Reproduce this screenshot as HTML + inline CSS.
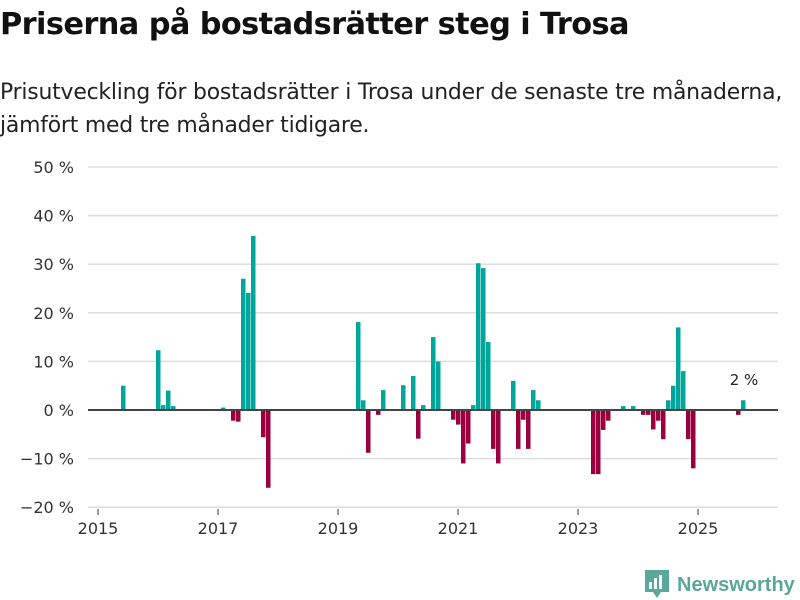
<!DOCTYPE html>
<html><head><meta charset="utf-8"><style>
body{margin:0;width:800px;height:600px;background:#fff;font-family:"Liberation Sans","DejaVu Sans",sans-serif;overflow:hidden;position:relative;color:#111}
h1{position:absolute;left:0;top:7px;margin:0;font-size:30.4px;font-weight:bold;font-family:"DejaVu Sans","Liberation Sans",sans-serif;letter-spacing:-0.6px}
.sub{position:absolute;left:0;top:76px;margin:0;font-size:21.9px;line-height:33px;font-family:"DejaVu Sans","Liberation Sans",sans-serif;color:#222;letter-spacing:-0.2px;white-space:nowrap}
svg{position:absolute;left:0;top:0}
</style></head><body>
<h1>Priserna på bostadsrätter steg i Trosa</h1>
<p class="sub">Prisutveckling för bostadsrätter i Trosa under de senaste tre månaderna,<br>jämfört med tre månader tidigare.</p>
<svg id="chart" width="800" height="600"></svg>
<script>
const months=[5,12,13,14,15,25,27,28,29,30,31,33,34,52,53,54,56,57,61,63,64,65,67,68,71,72,73,74,75,76,77,78,79,80,83,84,85,86,87,88,99,100,101,102,105,107,109,110,111,112,113,114,115,116,117,118,119,128,129];
const values=[5,12.3,1,4,0.8,0.5,-2.2,-2.4,27,24.1,35.8,-5.6,-16,18.1,2,-8.8,-1,4.1,5.1,7,-5.9,1,15,10,-2,-3,-11,-6.9,1,30.2,29.2,14,-8,-11,6,-8,-2,-8,4.1,2,-13.2,-13.2,-4.1,-2.2,0.8,0.8,-1,-1,-4,-2.2,-6,2,5,17,8,-6,-12,-1,2];
const yTicks=[50,40,30,20,10,0,-10,-20];
const xTicks=[2015,2017,2019,2021,2023,2025];
const NS="http://www.w3.org/2000/svg",svg=document.getElementById('chart');
const y=v=>410-v*4.86, x=m=>98+m*5;
function mk(t,a){const e=document.createElementNS(NS,t);for(const k in a)e.setAttribute(k,a[k]);svg.appendChild(e);return e;}
yTicks.forEach(t=>{
 if(t!==0){const l=mk('line',{x1:88,x2:778,y1:y(t),y2:y(t),stroke:'#ddd','stroke-width':1.5});
 
 }
 const tx=mk('text',{x:74,y:y(t)+6,'text-anchor':'end','font-size':16,fill:'#333','font-family':'DejaVu Sans, sans-serif'});
 tx.textContent=(t<0?'−'+(-t):t)+' %';
 
 
});
xTicks.forEach(t=>{
 const xx=x((t-2015)*12);
 const l=mk('line',{x1:xx,x2:xx,y1:509,y2:515,stroke:'#333'});
 
 
 const tx=mk('text',{x:xx,y:534,'text-anchor':'middle','font-size':16,fill:'#333','font-family':'DejaVu Sans, sans-serif'});
 tx.textContent=t;
 
 
});
months.forEach((m,i)=>{
 const v=values[i];
 const r=mk('rect',{x:x(m)-2,width:4.5,y:Math.min(y(v),y(0)),height:Math.abs(y(v)-y(0)),fill:v>=0?'#00a59b':'#99003d'});
 
 
});
const z=mk('line',{x1:88,x2:778,y1:y(0),y2:y(0),stroke:'#444','stroke-width':2});


const lb=mk('text',{x:744,y:385,'text-anchor':'middle','font-size':15,fill:'#222','font-family':'DejaVu Sans, sans-serif'});
lb.textContent=values[values.length-1]+' %';


</script>
<div style="position:absolute;left:645px;top:570px;display:flex;align-items:center">
<svg width="24" height="30" style="position:static"><path d="M0 0h24v22l-8 0-4 6-4-6H0z" fill="#5aa89a"/><rect x="4" y="12" width="3" height="7" fill="#fff"/><rect x="9" y="8" width="3" height="11" fill="#fff"/><rect x="14" y="5" width="3" height="14" fill="#fff"/></svg>
<span style="font-size:20px;font-weight:bold;color:#5aa89a;margin-left:8px;font-family:'Liberation Sans',sans-serif">Newsworthy</span></div>
</body></html>
